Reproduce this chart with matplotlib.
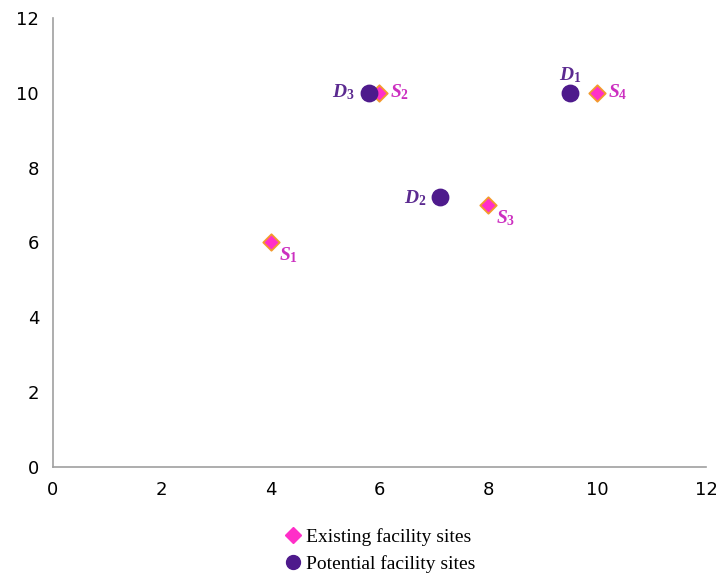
import matplotlib
matplotlib.use("Agg")
import matplotlib.pyplot as plt
from matplotlib.lines import Line2D

plt.rcParams["mathtext.fontset"] = "custom"
plt.rcParams["mathtext.it"] = "Liberation Serif:italic:bold"
plt.rcParams["mathtext.rm"] = "Liberation Serif:bold"

# existing sites (diamonds) and potential sites (circles)
s_x = [4, 6, 8, 10]
s_y = [6, 10, 7, 10]
s_lab = ["1", "2", "3", "4"]
d_x = [9.5, 7.12, 5.8]
d_y = [10, 7.22, 10]
d_lab = ["1", "2", "3"]

fig = plt.figure(figsize=(7.16, 5.73), dpi=100)
ax = fig.add_axes([0.074, 0.185, 0.912, 0.784])

ax.scatter(s_x, s_y, marker="D", s=70, c="#FF2FC8", edgecolors="#F39A2C",
           linewidths=1.3, zorder=3)
ax.scatter(d_x, d_y, marker="o", s=140, c="#4E1A8C", edgecolors="#4E1A8C",
           zorder=3)

serif = "Liberation Serif"
pink = "#CC2FC0"
purple = "#5B2A90"
for x, y, n in zip(s_x, s_y, s_lab):
    if n == "1" or n == "3":
        ax.text(x + 0.15, y - 0.08, "$S_%s$" % n, color=pink, fontsize=14,
                ha="left", va="top")
    else:
        ax.text(x + 0.2, y, "$S_%s$" % n, color=pink, fontsize=14,
                ha="left", va="center")
# D labels
ax.text(d_x[0], d_y[0] + 0.2, "$D_1$", color=purple, fontsize=14,
        ha="center", va="bottom")
ax.text(d_x[1] - 0.25, d_y[1] - 0.05, "$D_2$", color=purple, fontsize=14,
        ha="right", va="center")
ax.text(d_x[2] - 0.25, d_y[2], "$D_3$", color=purple, fontsize=14,
        ha="right", va="center")

ax.set_xlim(0, 12)
ax.set_ylim(0, 12)
ax.set_xticks(range(0, 13, 2))
ax.set_yticks(range(0, 13, 2))
ax.tick_params(length=0, labelsize=13, pad=10)
for side in ["top", "right"]:
    ax.spines[side].set_visible(False)
for side in ["left", "bottom"]:
    ax.spines[side].set_color("#A0A0A0")
    ax.spines[side].set_linewidth(1.2)

handles = [
    Line2D([], [], marker="D", ls="", color="#FF2FC8", markersize=8),
    Line2D([], [], marker="o", ls="", color="#4E1A8C", markersize=10),
]
fig.legend(handles, ["Existing facility sites", "Potential facility sites"],
           loc="lower center", bbox_to_anchor=(0.53, -0.03), frameon=False,
           prop={"family": serif, "size": 14}, handletextpad=0.2,
           labelspacing=0.45, handlelength=1.0)

fig.savefig("out.png", dpi=100)
